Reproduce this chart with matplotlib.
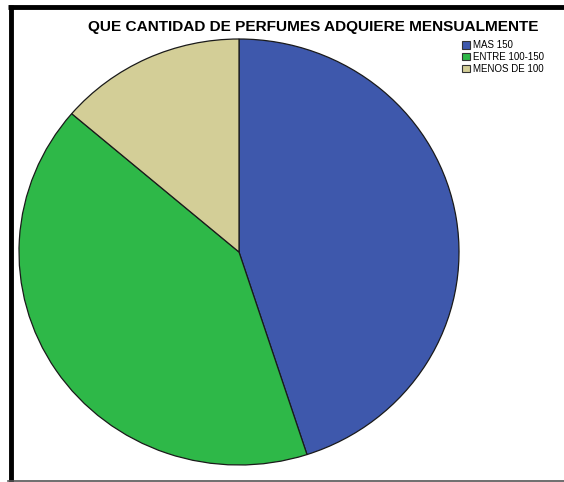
import matplotlib
matplotlib.use("Agg")
import matplotlib.pyplot as plt
from matplotlib.lines import Line2D
from matplotlib.patches import Patch

plt.rcParams['font.family'] = ['Liberation Sans', 'DejaVu Sans']

categorias = ['MAS 150', 'ENTRE 100-150', 'MENOS DE 100']
frecuencias = [36, 33, 11]
colores = ['#3E58AC', '#2EB848', '#D3CE97']

W, H = 564, 482
fig = plt.figure(figsize=(W / 100, H / 100), dpi=100)
fig.patch.set_facecolor('white')

# el area del pastel (un poco mas ancha que alta)
ax = fig.add_axes([19 / W, (H - 465) / H, 440 / W, 426 / H])
wedges, _ = ax.pie(frecuencias, colors=colores, startangle=90, counterclock=False,
                   wedgeprops=dict(edgecolor='#1a1a1a', linewidth=0.9))
for w in wedges:
    w.set_clip_on(False)
ax.set_aspect('auto')
ax.set_xlim(-1, 1)
ax.set_ylim(-1, 1)
ax.axis('off')

fig.text(313 / W, 1 - 27 / H, 'QUE CANTIDAD DE PERFUMES ADQUIERE MENSUALMENTE',
         ha='center', va='center', fontsize=11.1, fontweight='bold')

handles = [Patch(facecolor=c, edgecolor='#333333', linewidth=0.8) for c in colores]
fig.legend(handles, categorias, loc='upper left', bbox_to_anchor=(462 / W, 1 - 40 / H),
           frameon=False, fontsize=7.0, handlelength=0.85, handleheight=0.85,
           handletextpad=0.3, labelspacing=0.2, borderaxespad=0, borderpad=0)

# marco del grafico
fig.add_artist(Line2D([8 / W, 1], [1 - 7 / H, 1 - 7 / H], color='black', lw=3.5,
                      solid_capstyle='butt'))
fig.add_artist(Line2D([10.5 / W, 10.5 / W], [1 - 5 / H, 0], color='black', lw=3.5,
                      solid_capstyle='butt'))
fig.add_artist(Line2D([8 / W, 1], [1.5 / H, 1.5 / H], color='#555555', lw=1.2))

fig.savefig('out.png', dpi=100)
